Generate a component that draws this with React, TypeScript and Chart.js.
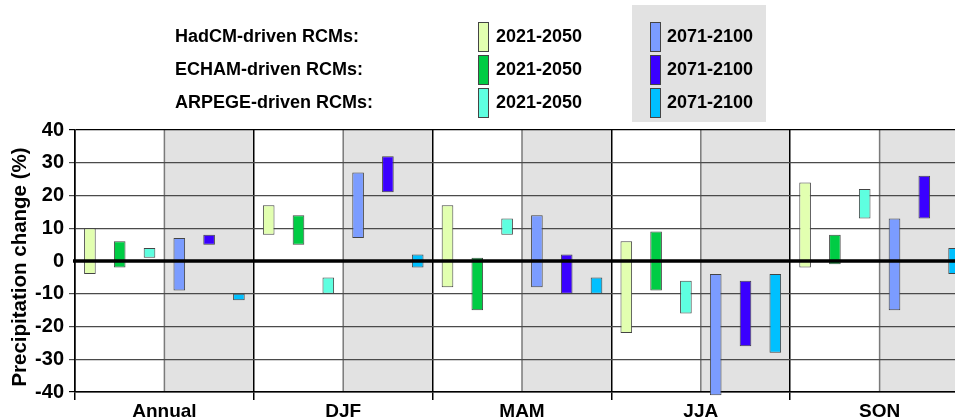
import React, { useEffect, useRef } from "react";
import { Chart, registerables } from "chart.js";

Chart.register(...registerables);

const categories = ["Annual", "DJF", "MAM", "JJA", "SON"];
const hadcm2021 = [[-4, 10], [8, 17], [-8, 17], [-22, 6], [-2, 24]];
const echam2021 = [[-2, 6], [5, 14], [-15, 1], [-9, 9], [-1, 8]];
const arpege2021 = [[1, 4], [-10, -5], [8, 13], [-16, -6], [13, 22]];
const hadcm2071 = [[-9, 7], [7, 27], [-8, 14], [-41, -4], [-15, 13]];
const echam2071 = [[5, 8], [21, 32], [-10, 2], [-26, -6], [13, 26]];
const arpege2071 = [[-12, -10], [-2, 2], [-10, -5], [-28, -4], [-4, 4]];

const groupLabels = ["HadCM-driven RCMs:", "ECHAM-driven RCMs:", "ARPEGE-driven RCMs:"];
const periodLabels = ["2021-2050", "2071-2100"];
const yTitle = "Precipitation change (%)";
const colors2021 = ["#e2ffb0", "#00cc44", "#5effe0"];
const colors2071 = ["#7b9cff", "#3a00ff", "#00c0ff"];

const FONT = '"Liberation Sans", Arial, Helvetica, sans-serif';

const bgPlugin = {
  id: "bgPlugin",
  beforeDraw(chart: any) {
    const { ctx, chartArea: a, scales } = chart;
    const x = scales.x;
    const step = x.getPixelForValue(1) - x.getPixelForValue(0);
    ctx.save();
    for (let i = 0; i < categories.length; i++) {
      const c = x.getPixelForValue(i);
      ctx.fillStyle = "#e2e2e2";
      ctx.fillRect(c, a.top, step / 2, a.bottom - a.top);
      ctx.strokeStyle = "#7a7a7a";
      ctx.lineWidth = 1.5;
      ctx.beginPath();
      ctx.moveTo(c, a.top);
      ctx.lineTo(c, a.bottom);
      ctx.stroke();
    }
    // legend
    ctx.fillStyle = "#e2e2e2";
    ctx.fillRect(632, 5, 134, 117);
    ctx.font = "bold 18px " + FONT;
    ctx.textBaseline = "middle";
    ctx.textAlign = "left";
    const rows = [37, 70, 103];
    for (let r = 0; r < 3; r++) {
      const y = rows[r];
      ctx.fillStyle = "#000";
      ctx.fillText(groupLabels[r], 175, y);
      ctx.fillStyle = colors2021[r];
      ctx.fillRect(478, y - 15, 11, 30);
      ctx.strokeStyle = "#444";
      ctx.lineWidth = 1;
      ctx.strokeRect(478.5, y - 14.5, 10, 29);
      ctx.fillStyle = "#000";
      ctx.fillText(periodLabels[0], 496, y);
      ctx.fillStyle = colors2071[r];
      ctx.fillRect(650, y - 15, 11, 30);
      ctx.strokeRect(650.5, y - 14.5, 10, 29);
      ctx.fillStyle = "#000";
      ctx.fillText(periodLabels[1], 667, y);
    }
    // x-axis category labels
    ctx.font = "bold 19px " + FONT;
    ctx.textAlign = "center";
    ctx.textBaseline = "alphabetic";
    for (let i = 0; i < categories.length; i++) {
      ctx.fillText(categories[i], x.getPixelForValue(i), 417);
    }
    // y-axis title
    ctx.translate(20, 267);
    ctx.rotate(-Math.PI / 2);
    ctx.textAlign = "center";
    ctx.textBaseline = "middle";
    ctx.font = "bold 20.5px " + FONT;
    ctx.fillStyle = "#000";
    ctx.fillText(yTitle, 0, 0);
    ctx.restore();
  },
  afterDatasetsDraw(chart: any) {
    const { ctx, chartArea: a, scales } = chart;
    const y0 = scales.y.getPixelForValue(0);
    ctx.save();
    ctx.strokeStyle = "#000";
    ctx.lineWidth = 3.5;
    ctx.beginPath();
    ctx.moveTo(a.left - 2, y0);
    ctx.lineTo(a.right, y0);
    ctx.stroke();
    ctx.restore();
  },
};

export default function App() {
  const ref = useRef<HTMLCanvasElement>(null);
  useEffect(() => {
    if (!ref.current) return;
    const mk = (label: string, data: number[][], color: string) => ({
      label,
      data,
      backgroundColor: color,
      borderColor: "#444",
      borderWidth: 1,
      borderSkipped: false,
      clip: false,
    });
    const chart = new Chart(ref.current, {
      type: "bar",
      data: {
        labels: categories,
        datasets: [
          mk("HadCM 2021-2050", hadcm2021, colors2021[0]),
          mk("ECHAM 2021-2050", echam2021, colors2021[1]),
          mk("ARPEGE 2021-2050", arpege2021, colors2021[2]),
          mk("HadCM 2071-2100", hadcm2071, colors2071[0]),
          mk("ECHAM 2071-2100", echam2071, colors2071[1]),
          mk("ARPEGE 2071-2100", arpege2071, colors2071[2]),
        ] as any,
      },
      options: {
        responsive: false,
        animation: false,
        devicePixelRatio: 1,
        layout: { padding: { top: 130, right: 6, left: 0, bottom: 0 } },
        datasets: { bar: { categoryPercentage: 1, barPercentage: 0.39 } },
        plugins: { legend: { display: false }, tooltip: { enabled: false } },
        scales: {
          x: {
            offset: true,
            grid: { offset: true, color: "#000", lineWidth: 1.5, tickLength: 8 },
            border: { color: "#000", width: 1.5 },
            ticks: { color: "rgba(0,0,0,0)", font: { family: FONT, size: 19, weight: "bold" }, padding: 0 },
            afterFit: (s: any) => { s.height = 27; },
          },
          y: {
            min: -40,
            max: 40,
            ticks: { stepSize: 10, color: "#000", font: { family: FONT, size: 20, weight: "bold" }, padding: 5 },
            grid: {
              tickLength: 6,
              lineWidth: 1.2,
              color: (c: any) =>
                c.tick && c.tick.value === 0 ? "rgba(0,0,0,0)" :
                c.tick && Math.abs(c.tick.value) === 40 ? "#000" : "#4a4a4a",
            },
            border: { color: "#000", width: 1.5 },
            title: { display: false },
            afterFit: (s: any) => { s.width = 75; },
          },
        },
      } as any,
      plugins: [bgPlugin],
    });
    return () => chart.destroy();
  }, []);
  return (
    <div style={{ position: "fixed", left: 0, top: 0, width: 955, height: 419, overflow: "hidden", background: "#fff" }}>
      <canvas ref={ref} width={975} height={419} style={{ display: "block", width: 975, height: 419 }} />
    </div>
  );
}
